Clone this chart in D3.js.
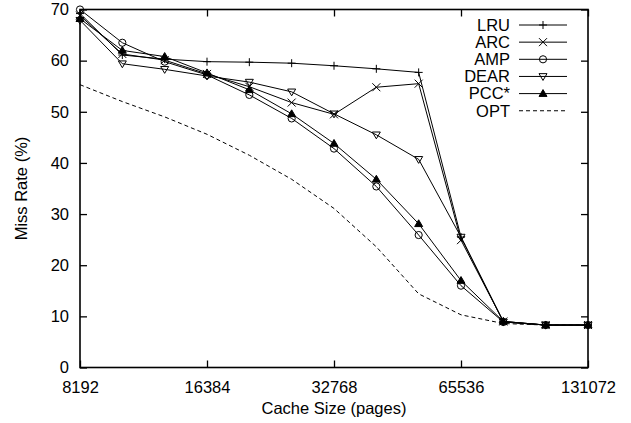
<!DOCTYPE html>
<html>
<head>
<meta charset="utf-8">
<script src="https://cdn.jsdelivr.net/npm/d3@7"></script>
<style>
  html, body { margin: 0; padding: 0; background: #fff; }
  svg { display: block; }
  text { font-family: "Liberation Sans", Arial, sans-serif; fill: #000; }
</style>
</head>
<body>
<svg id="chart" width="631" height="423"></svg>
<script>
// Cache sizes (pages), one point every third of an octave
const cacheSizes = [8192, 10321, 13004, 16384, 20643, 26008, 32768, 41285, 52016, 65536, 82570, 104032, 131072];
const xTicks = [8192, 16384, 32768, 65536, 131072];
const yTicks = [0, 10, 20, 30, 40, 50, 60, 70];

// Miss rate (%) per policy
const lru  = [69.2, 61.1, 60.3, 59.8, 59.7, 59.5, 59.0, 58.4, 57.7, 25.5, 9.0, 8.3, 8.3];
const arc  = [68.8, 61.3, 60.1, 57.4, 54.9, 51.8, 49.5, 54.8, 55.5, 24.9, 9.0, 8.3, 8.3];
const amp  = [70.0, 63.5, 59.8, 57.2, 53.3, 48.7, 42.8, 35.4, 25.9, 16.0, 8.9, 8.3, 8.3];
const dear = [67.9, 59.4, 58.3, 57.0, 55.8, 53.9, 49.6, 45.5, 40.7, 25.5, 8.9, 8.3, 8.3];
const pcc  = [68.2, 62.0, 60.8, 57.6, 54.3, 49.6, 43.8, 36.8, 28.1, 17.0, 9.0, 8.3, 8.3];
const opt  = [55.3, 52.0, 49.0, 45.6, 41.5, 36.8, 31.1, 23.6, 14.4, 10.3, 8.6, 8.3, 8.3];

const seriesNames = ["LRU", "ARC", "AMP", "DEAR", "PCC*", "OPT"];
const seriesValues = [lru, arc, amp, dear, pcc, opt];
const seriesMarks = ["plus", "cross", "circle", "tridown", "triup", null];

const svg = d3.select("#chart");
const L = 80, R = 588, T = 9.5, B = 367.5;

const x = d3.scaleLog().base(2).domain([8192, 131072]).range([L, R]);
const y = d3.scaleLinear().domain([0, 70]).range([B, T]);

const tickLen = 7;

// Axes: bottom/left carry labels; top/right mirror the ticks inward
svg.append("g").attr("transform", `translate(0,${B})`)
  .call(d3.axisBottom(x).tickValues(xTicks).tickFormat(d3.format("d")).tickSizeInner(-tickLen).tickSizeOuter(0).tickPadding(14))
  .call(g => g.select(".domain").remove());
svg.append("g").attr("transform", `translate(0,${T})`)
  .call(d3.axisTop(x).tickValues(xTicks).tickFormat("").tickSizeInner(-tickLen).tickSizeOuter(0))
  .call(g => g.select(".domain").remove());
svg.append("g").attr("transform", `translate(${L},0)`)
  .call(d3.axisLeft(y).tickValues(yTicks).tickSizeInner(-tickLen).tickSizeOuter(0).tickPadding(11))
  .call(g => g.select(".domain").remove());
svg.append("g").attr("transform", `translate(${R},0)`)
  .call(d3.axisRight(y).tickValues(yTicks).tickFormat("").tickSizeInner(-tickLen).tickSizeOuter(0))
  .call(g => g.select(".domain").remove());

svg.selectAll(".tick line").attr("stroke", "#000").attr("stroke-width", 1.3);
svg.selectAll(".tick text").style("font-size", "16.5px").style("font-family", '"Liberation Sans", Arial, sans-serif').attr("fill", "#000");

// Plot frame
svg.append("rect").attr("x", L).attr("y", T).attr("width", R - L).attr("height", B - T)
  .attr("fill", "none").attr("stroke", "#000").attr("stroke-width", 1.6);

// Axis titles
svg.append("text").attr("x", (L + R) / 2).attr("y", 414).attr("text-anchor", "middle")
  .style("font-size", "16.5px").text("Cache Size (pages)");
svg.append("text").attr("transform", `translate(27,${(T + B) / 2}) rotate(-90)`).attr("text-anchor", "middle")
  .style("font-size", "16.5px").text("Miss Rate (%)");

// Marker drawing
function drawMarker(g, type, cx, cy) {
  const s = 4;
  if (type === "plus") {
    g.append("path").attr("d", `M${cx - s},${cy}H${cx + s}M${cx},${cy - s}V${cy + s}`)
      .attr("stroke", "#000").attr("stroke-width", 1).attr("fill", "none");
  } else if (type === "cross") {
    g.append("path").attr("d", `M${cx - s},${cy - s}L${cx + s},${cy + s}M${cx - s},${cy + s}L${cx + s},${cy - s}`)
      .attr("stroke", "#000").attr("stroke-width", 1).attr("fill", "none");
  } else if (type === "circle") {
    g.append("circle").attr("cx", cx).attr("cy", cy).attr("r", 3.6)
      .attr("stroke", "#000").attr("stroke-width", 1).attr("fill", "none");
  } else if (type === "tridown") {
    g.append("path").attr("d", `M${cx - 4},${cy - 2.8}L${cx + 4},${cy - 2.8}L${cx},${cy + 4}Z`)
      .attr("stroke", "#000").attr("stroke-width", 1).attr("fill", "none");
  } else if (type === "triup") {
    g.append("path").attr("d", `M${cx - 4},${cy + 2.8}L${cx + 4},${cy + 2.8}L${cx},${cy - 4}Z`)
      .attr("stroke", "#000").attr("stroke-width", 1).attr("fill", "#000");
  }
}

const line = d3.line().x((d, i) => x(cacheSizes[i])).y(d => y(d));

seriesValues.forEach((vals, k) => {
  const g = svg.append("g");
  const isOpt = seriesMarks[k] === null;
  g.append("path").datum(vals).attr("d", line)
    .attr("fill", "none").attr("stroke", "#000").attr("stroke-width", 1)
    .attr("stroke-dasharray", isOpt ? "4,3" : null);
  if (!isOpt) vals.forEach((v, i) => drawMarker(g, seriesMarks[k], x(cacheSizes[i]), y(v)));
});

// Legend
const legY0 = 25, legStep = 17.15;
seriesNames.forEach((name, k) => {
  const cy = legY0 + k * legStep;
  svg.append("text").attr("x", 510).attr("y", cy).attr("dy", "0.35em").attr("text-anchor", "end")
    .style("font-size", "16.5px").text(name);
  const g = svg.append("g");
  g.append("line").attr("x1", 519).attr("x2", 567).attr("y1", cy).attr("y2", cy)
    .attr("stroke", "#000").attr("stroke-width", 1)
    .attr("stroke-dasharray", seriesMarks[k] === null ? "4,3" : null);
  if (seriesMarks[k]) drawMarker(g, seriesMarks[k], 543, cy);
});
</script>
</body>
</html>
